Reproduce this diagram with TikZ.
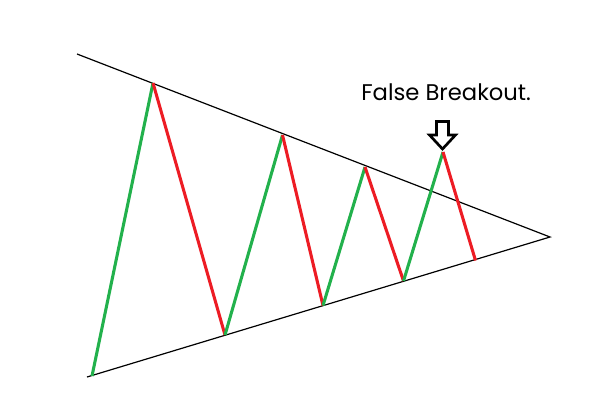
\documentclass[tikz,border=0pt]{standalone}
\usepackage{fontspec}
\setmainfont{Poppins}
\definecolor{upgreen}{RGB}{34,177,76}
\definecolor{downred}{RGB}{237,28,36}
\begin{document}
\begin{tikzpicture}[x=0.75pt,y=-0.75pt,
  trend/.style={black,line width=0.9pt},
  up/.style={upgreen,line width=2.3pt},
  down/.style={downred,line width=2.3pt},
  lbl/.style={font=\fontsize{17}{20}\selectfont,inner sep=0pt,anchor=base west}]
\useasboundingbox (0,0) rectangle (602,407);
\coordinate (u0) at (77,54);
\coordinate (l0) at (87,377);
\coordinate (apex) at (550,237);
\coordinate (s0) at (92,376);
\coordinate (p1) at (153,83);
\coordinate (t1) at (225,335);
\coordinate (p2) at (282.5,135);
\coordinate (t2) at (323,305.5);
\coordinate (p3) at (365,167);
\coordinate (t3) at (403.5,281);
\coordinate (p4) at (443,152);
\coordinate (e4) at (475.5,260.5);
\draw[trend] (u0) -- (apex) -- (l0);
\draw[up] (s0) -- (p1);
\draw[down] (p1) -- (t1);
\draw[up] (t1) -- (p2);
\draw[down] (p2) -- (t2);
\draw[up] (t2) -- (p3);
\draw[down] (p3) -- (t3);
\draw[up] (t3) -- (p4);
\draw[down] (p4) -- (e4);
\node[lbl] (label) at (361,100) {False Breakout.};
\draw[black,line width=2pt,line join=miter] (436.5,121.5) -- (448.5,121.5) -- (448.5,135) -- (455.5,135) -- (442.5,149) -- (429.5,135) -- (436.5,135) -- cycle;
\end{tikzpicture}
\end{document}
